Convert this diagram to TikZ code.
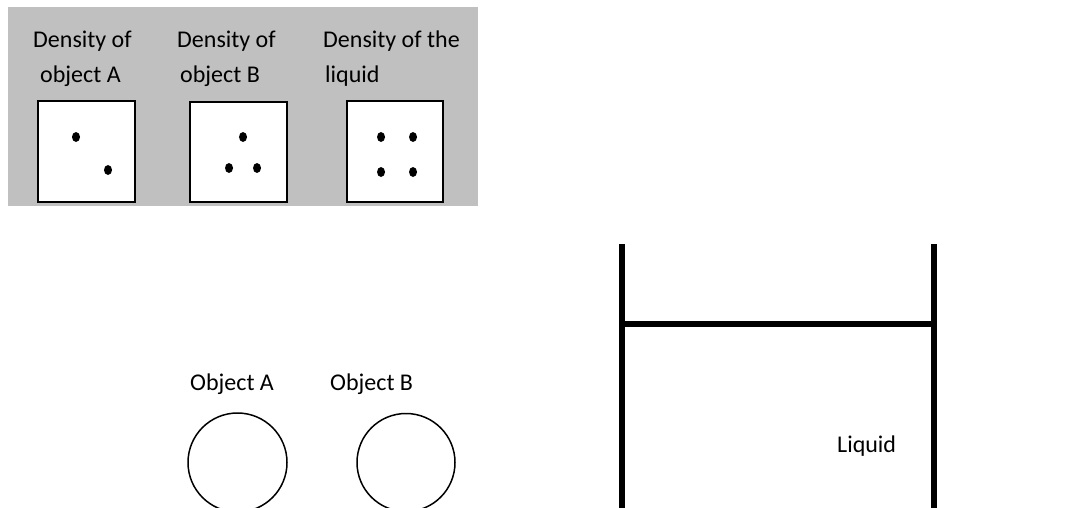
\documentclass[tikz,border=0pt]{standalone}
\usepackage{fontspec}
\setmainfont{Carlito}
\begin{document}
\begin{tikzpicture}[x=1pt,y=-1pt,
  lbl/.style={anchor=base west,inner sep=0pt,font=\fontsize{24}{28}\selectfont},
  dbox/.style={draw=black,line width=1.6pt,fill=white},
  dot/.style={fill=black,draw=none},
  wall/.style={line width=6pt,draw=black},
  ball/.style={draw=black,line width=1.5pt}]
\useasboundingbox (0,0) rectangle (1091,508);
% grey panel
\fill[fill={rgb,255:red,192;green,192;blue,192}] (8,7) rectangle (478,206);
% labels
\node[lbl] (la1) at (33,48) {Density of};
\node[lbl] (la2) at (40,83) {object A};
\node[lbl] (lb1) at (177,48) {Density of};
\node[lbl] (lb2) at (180,83) {object B};
\node[lbl] (lc1) at (323,48) {Density of the};
\node[lbl] (lc2) at (325,83) {liquid};
% boxes
\draw[dbox] (38,101) rectangle (135,202);
\draw[dbox] (190,102) rectangle (287,202);
\draw[dbox] (347,101) rectangle (443,202);
% dots
\foreach \p in {(76,137),(108,170),(243,137),(229,168),(257,168),(381,137),(413,137),(381,172),(413,172)}
  \fill[dot] \p ellipse [x radius=4, y radius=5];
% objects
\node[lbl] (oa) at (190,390) {Object A};
\node[lbl] (ob) at (330,390) {Object B};
\draw[ball] (237.5,462.5) circle [radius=49.5];
\draw[ball] (406,462.5) circle [radius=49];
% beaker
\coordinate (lt) at (622,244);
\coordinate (lb) at (622,508);
\coordinate (rt) at (934,244);
\coordinate (rb) at (934,508);
\coordinate (sl) at (622,324);
\coordinate (sr) at (934,324);
\draw[wall] (lt) -- (lb);
\draw[wall] (rt) -- (rb);
\draw[wall] (sl) -- (sr);
\node[lbl] (liq) at (837,452) {Liquid};
\end{tikzpicture}
\end{document}
